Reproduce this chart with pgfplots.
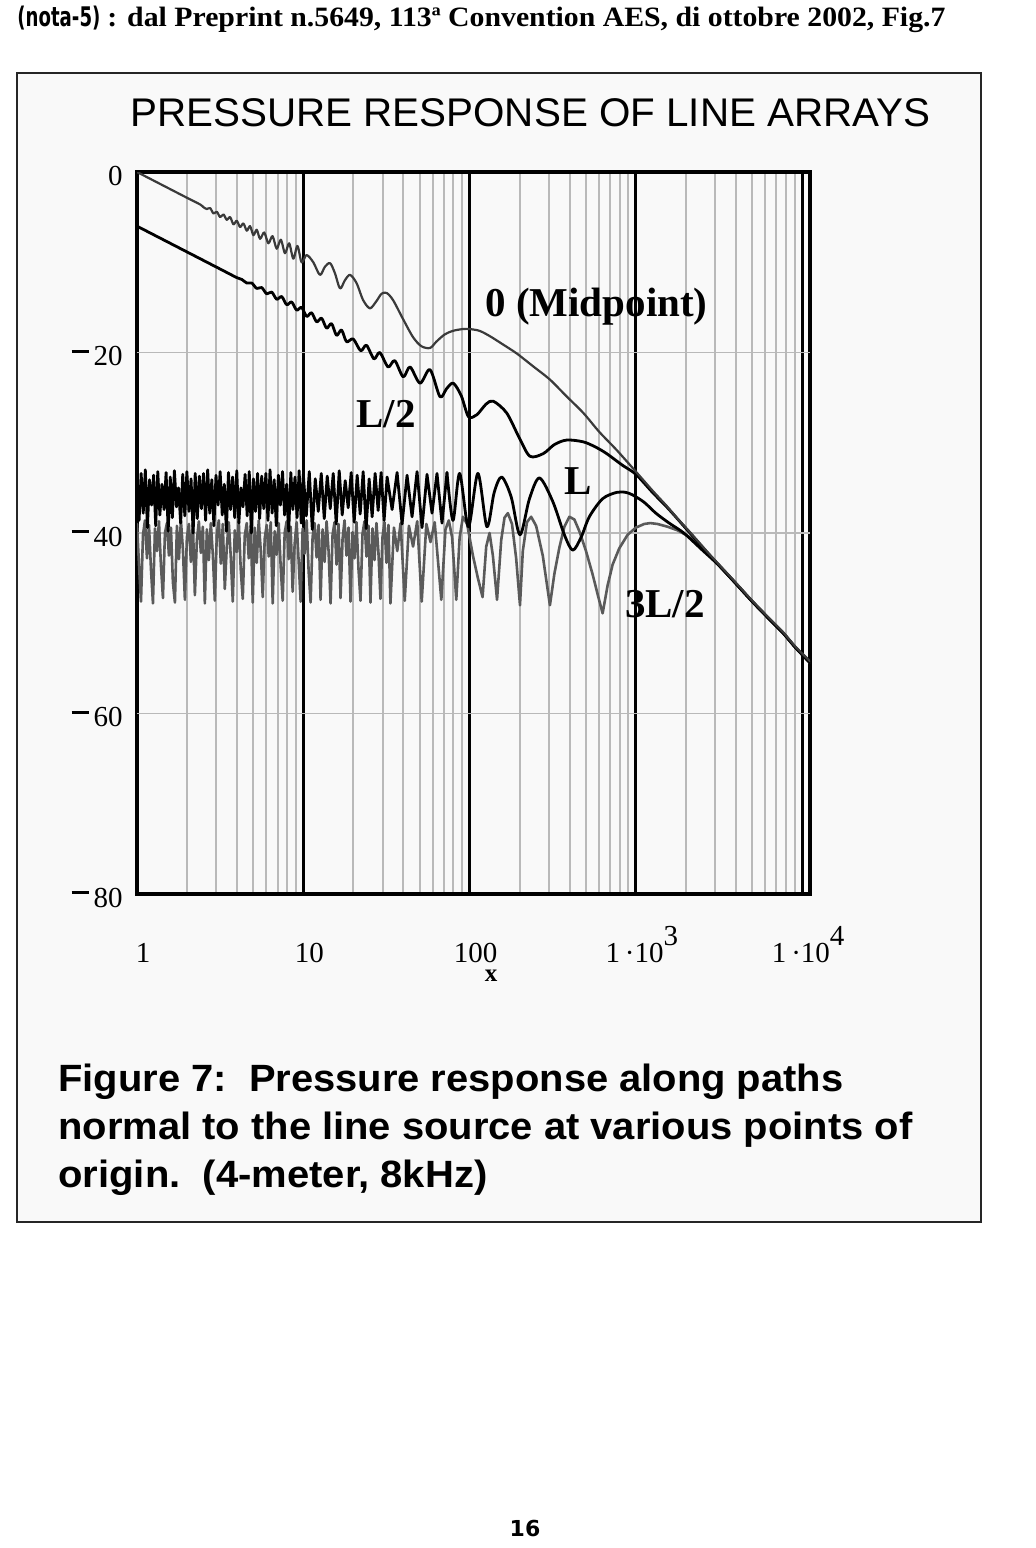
\documentclass[border=0pt]{standalone}
\usepackage{fontspec}
\setmainfont{Liberation Serif}
\setsansfont{Liberation Sans}
\newfontfamily\dejavu{DejaVu Sans}
\usepackage{graphicx}
\usepackage{pgfplots}
\pgfplotsset{compat=1.18}
\definecolor{boxfill}{RGB}{249,249,249}
\definecolor{midcurve}{RGB}{58,58,58}
\definecolor{farcurve}{RGB}{90,90,90}
\definecolor{minorgrid}{RGB}{185,185,185}
% raised Mathcad-style minus and power-of-ten labels
\newcommand\mns{\rule[0.44em]{0.59em}{0.1em}\hspace{0.17em}}
\newcommand\pw[1]{1\,·10\raisebox{0.58em}{#1}}

\begin{document}
\begin{tikzpicture}
\useasboundingbox (0,0) rectangle (518pt,-774pt);
\fill[white] (0,0) rectangle (518pt,-774pt);

% header line
\node[anchor=base west, inner sep=0pt] at (8.5pt,-13pt)
  {\resizebox{41.5pt}{\height}{\dejavu\bfseries\fontsize{13.5}{13.5}\selectfont (nota-5)}};
\node[anchor=base west, inner sep=0pt] at (53.5pt,-13pt)
  {\resizebox{419pt}{\height}{\bfseries\fontsize{14}{14}\selectfont : dal Preprint n.5649, 113ª Convention AES, di ottobre 2002, Fig.7}};

% figure frame
\draw[line width=1pt, draw=black!85, fill=boxfill] (8.5pt,-36.5pt) rectangle (490.5pt,-611pt);

% title
\node[anchor=base west, inner sep=0pt] at (65pt,-63.4pt)
  {\resizebox{400pt}{\height}{\sffamily\fontsize{20}{20}\selectfont PRESSURE RESPONSE OF LINE ARRAYS}};

\begin{axis}[
  at={(68.5pt,-447pt)}, anchor=south west,
  scale only axis,
  width=336.5pt, height=361pt,
  xmin=0, xmax=4.047,
  ymin=-80, ymax=0,
  axis line style={line width=1.75pt},
  xtick={0,1,2,3,4},
  xticklabels={1,10,100,\pw{3},\pw{4}},
  minor xtick={0.30103,0.47712,0.60206,0.69897,0.77815,0.84510,0.90309,0.95424,
               1.30103,1.47712,1.60206,1.69897,1.77815,1.84510,1.90309,1.95424,
               2.30103,2.47712,2.60206,2.69897,2.77815,2.84510,2.90309,2.95424,
               3.30103,3.47712,3.60206,3.69897,3.77815,3.84510,3.90309,3.95424},
  ytick={-80,-60,-40,-20,0},
  yticklabels={{\mns 80},{\mns 60},{\mns 40},{\mns 20},0},
  major tick length=0pt, minor tick length=0pt,
  xmajorgrids=true, xminorgrids=true,
  major grid style={black, line width=1.5pt},
  minor grid style={minorgrid, line width=1pt},
  extra y ticks={-60,-40,-20},
  extra y tick labels={},
  extra y tick style={grid=major, major grid style={minorgrid, line width=0.8pt}},
  xticklabel style={font=\fontsize{14.5}{14.5}\selectfont, anchor=base, inner sep=0pt, yshift=-34pt, xshift=3pt},
  yticklabel style={font=\fontsize{14.5}{14.5}\selectfont, anchor=east, inner sep=0pt, xshift=-7pt, yshift=-1.8pt},
  xlabel={x},
  xlabel style={at={(axis description cs:0.526,0)}, anchor=base, inner sep=0pt, yshift=-43.5pt,
                font=\bfseries\fontsize{12.5}{12.5}\selectfont},
  every axis plot/.append style={line join=round, line cap=round},
]

% 3L/2 (grey)
\addplot[farcurve, line width=1.3pt] coordinates {
(0.000,-39.0) (0.012,-43.5) (0.024,-47.6) (0.036,-40.2) (0.048,-38.6) (0.060,-42.8)
(0.072,-39.1) (0.084,-44.0) (0.096,-47.8) (0.108,-39.5) (0.120,-42.0) (0.132,-38.7)
(0.144,-43.6) (0.156,-47.2) (0.168,-40.0) (0.180,-38.9) (0.192,-42.5) (0.204,-39.4)
(0.216,-45.5) (0.228,-47.7) (0.240,-39.2) (0.252,-42.9) (0.264,-38.6) (0.276,-41.8)
(0.288,-47.4) (0.300,-40.5) (0.312,-39.0) (0.324,-43.2) (0.336,-38.8) (0.348,-46.9)
(0.360,-40.8) (0.372,-38.7) (0.384,-42.2) (0.396,-39.3) (0.408,-47.8) (0.420,-39.6)
(0.432,-43.0) (0.444,-38.9) (0.456,-42.4) (0.468,-47.5) (0.480,-40.1) (0.492,-38.6)
(0.504,-43.4) (0.516,-39.0) (0.528,-46.2) (0.540,-41.5) (0.552,-38.8) (0.564,-42.7)
(0.576,-47.6) (0.588,-39.7) (0.600,-42.1) (0.612,-38.7) (0.624,-44.1) (0.636,-47.3)
(0.648,-40.3) (0.660,-38.9) (0.672,-42.8) (0.684,-39.2) (0.696,-47.7) (0.708,-39.4)
(0.720,-43.3) (0.732,-38.6) (0.744,-41.9) (0.756,-47.1) (0.768,-40.6) (0.780,-39.1)
(0.792,-42.6) (0.804,-38.8) (0.816,-47.8) (0.828,-39.8) (0.840,-42.4) (0.852,-38.9)
(0.864,-43.7) (0.876,-47.5) (0.888,-40.0) (0.900,-38.7) (0.912,-42.9) (0.924,-39.3)
(0.936,-46.5) (0.948,-41.2) (0.960,-38.8) (0.972,-43.1) (0.984,-47.6) (0.996,-39.5)
(1.008,-42.3) (1.020,-38.6) (1.032,-44.2) (1.044,-47.7) (1.056,-40.4) (1.068,-38.9)
(1.080,-42.7) (1.092,-39.1) (1.104,-47.4) (1.116,-39.6) (1.128,-43.2) (1.140,-38.7)
(1.152,-42.0) (1.164,-47.8) (1.176,-40.2) (1.188,-38.8) (1.200,-43.5) (1.212,-39.0)
(1.224,-47.2) (1.236,-40.7) (1.248,-38.6) (1.260,-42.5) (1.272,-39.4) (1.284,-47.6)
(1.296,-39.9) (1.308,-42.8) (1.320,-38.8) (1.332,-44.0) (1.344,-47.5) (1.356,-40.1)
(1.368,-38.7) (1.380,-42.6) (1.392,-39.2) (1.404,-47.7) (1.416,-39.5) (1.428,-43.0)
(1.440,-38.9) (1.452,-42.2) (1.464,-47.3) (1.476,-40.5) (1.488,-38.8) (1.500,-43.3)
(1.512,-39.1) (1.524,-47.8) (1.545,-39.4) (1.565,-42.0) (1.585,-38.9) (1.610,-47.5)
(1.635,-39.2) (1.660,-41.5) (1.685,-38.7) (1.712,-47.6) (1.740,-39.0) (1.765,-41.0)
(1.790,-38.8) (1.830,-47.4) (1.855,-39.6) (1.875,-38.6) (1.895,-40.5) (1.920,-47.4)
(1.940,-40.5) (1.960,-38.2) (1.985,-39.0) (2.020,-42.5) (2.050,-45.0) (2.078,-47.1)
(2.100,-41.5) (2.120,-40.0) (2.140,-42.5) (2.165,-47.4) (2.190,-40.8) (2.210,-38.3)
(2.230,-37.8) (2.255,-39.0) (2.280,-42.8) (2.303,-48.0) (2.320,-42.0) (2.345,-38.8)
(2.370,-38.2) (2.400,-39.2) (2.440,-42.5) (2.483,-48.0) (2.510,-44.5) (2.540,-41.6)
(2.570,-39.3) (2.600,-38.2) (2.630,-38.5) (2.660,-39.8) (2.700,-42.0) (2.740,-44.6)
(2.770,-46.8) (2.800,-48.9) (2.830,-45.8) (2.860,-43.5) (2.900,-41.7) (2.950,-40.2)
(3.000,-39.4) (3.050,-39.0) (3.086,-38.9) (3.130,-39.0) (3.190,-39.3) (3.250,-39.7)
(3.310,-40.3) (3.370,-41.1) (3.450,-42.6) (3.586,-45.3) (3.700,-47.6) (3.800,-49.5)
(3.886,-51.1) (3.960,-52.7) (4.047,-54.4)
};

% L (black), dense near field
\addplot[black, line width=1.4pt] coordinates {
(0.0000,-34.5) (0.0125,-38.6) (0.0250,-33.4) (0.0375,-37.8) (0.0500,-33.0) (0.0625,-39.4)
(0.0750,-34.1) (0.0875,-36.9) (0.1000,-33.6) (0.1125,-39.2) (0.1250,-33.2) (0.1375,-38.0)
(0.1500,-34.6) (0.1625,-37.4) (0.1750,-33.3) (0.1875,-39.8) (0.2000,-33.8) (0.2125,-38.3)
(0.2250,-33.1) (0.2375,-37.1) (0.2500,-35.0) (0.2625,-38.9) (0.2750,-33.5) (0.2875,-38.1)
(0.3000,-33.2) (0.3125,-37.6) (0.3250,-34.0) (0.3375,-40.0) (0.3500,-33.4) (0.3625,-38.4)
(0.3750,-33.7) (0.3875,-37.3) (0.4000,-33.4) (0.4125,-38.6) (0.4250,-33.0) (0.4375,-37.8)
(0.4500,-34.1) (0.4625,-39.2) (0.4750,-33.6) (0.4875,-36.9) (0.5000,-33.2) (0.5125,-38.0)
(0.5250,-34.6) (0.5375,-39.8) (0.5500,-33.3) (0.5625,-37.4) (0.5750,-33.8) (0.5875,-38.3)
(0.6000,-33.1) (0.6125,-38.9) (0.6250,-35.0) (0.6375,-37.1) (0.6500,-33.5) (0.6625,-38.1)
(0.6750,-33.2) (0.6875,-40.0) (0.7000,-34.0) (0.7125,-37.6) (0.7250,-33.4) (0.7375,-38.4)
(0.7500,-33.7) (0.7625,-37.3) (0.7750,-33.4) (0.7875,-38.6) (0.8000,-33.0) (0.8125,-37.8)
(0.8250,-34.1) (0.8375,-39.2) (0.8500,-33.6) (0.8625,-36.9) (0.8750,-33.2) (0.8875,-38.0)
(0.9000,-34.6) (0.9125,-39.8) (0.9250,-33.3) (0.9375,-37.4) (0.9500,-33.8) (0.9625,-38.3)
(0.9750,-33.1) (0.9875,-38.9) (1.0000,-33.5) (1.018,-38.1) (1.036,-33.2) (1.054,-39.6)
(1.072,-34.0) (1.090,-37.6) (1.108,-33.4) (1.126,-38.4) (1.144,-33.7) (1.162,-37.3)
(1.180,-33.4) (1.198,-39.0) (1.216,-33.1) (1.234,-38.0) (1.252,-34.2) (1.270,-37.2)
(1.288,-33.3) (1.306,-38.8) (1.324,-33.6) (1.342,-37.9) (1.360,-33.2) (1.378,-39.5)
(1.396,-34.0) (1.414,-38.2) (1.432,-33.4) (1.450,-37.5) (1.468,-33.3) (1.486,-38.6)
(1.504,-33.8) (1.534,-37.4) (1.564,-33.3) (1.594,-39.0) (1.624,-33.6) (1.654,-38.2)
(1.684,-33.2) (1.714,-39.4) (1.744,-33.5) (1.774,-37.8) (1.804,-33.4) (1.834,-38.9)
(1.864,-33.3)
};
% L (black), far field
\addplot[black, line width=1.4pt, smooth] coordinates {
(1.864,-33.3) (1.900,-38.6) (1.940,-33.4) (1.993,-39.3) (2.050,-33.4) (2.104,-39.3)
(2.148,-35.5) (2.193,-33.8) (2.250,-36.0) (2.303,-40.2) (2.360,-36.2) (2.420,-33.9)
(2.500,-36.5) (2.570,-40.2) (2.620,-41.9) (2.670,-40.5) (2.720,-38.2) (2.800,-36.2)
(2.884,-35.5) (2.940,-35.5) (2.982,-35.8) (3.050,-36.6) (3.120,-37.8) (3.200,-38.9)
(3.288,-40.0) (3.400,-41.9) (3.500,-43.6) (3.586,-45.3) (3.700,-47.6) (3.800,-49.5)
(3.886,-51.1) (3.960,-52.7) (4.047,-54.4)
};

% L/2 (black)
\addplot[black, line width=1.4pt, smooth] coordinates {
(0.00,-6.0) (0.10,-6.95) (0.20,-7.9) (0.30,-8.85) (0.40,-9.8) (0.50,-10.75) (0.60,-11.7)
(0.63,-11.9) (0.66,-12.3) (0.69,-12.3) (0.72,-12.9) (0.75,-12.8) (0.78,-13.5) (0.81,-13.3)
(0.84,-14.1) (0.87,-13.8) (0.90,-14.7) (0.93,-14.4) (0.96,-15.3) (0.99,-15.0) (1.02,-16.0)
(1.05,-15.6) (1.08,-16.6) (1.11,-16.2) (1.14,-17.3) (1.17,-16.8) (1.20,-18.1) (1.23,-17.5)
(1.26,-18.8) (1.30,-18.5) (1.345,-19.8) (1.38,-19.2) (1.425,-20.7) (1.46,-20.0) (1.51,-21.6)
(1.55,-20.9) (1.601,-22.7) (1.642,-21.6) (1.702,-23.4) (1.762,-21.9) (1.822,-24.9)
(1.862,-24.0) (1.902,-23.4) (1.95,-24.8) (1.993,-27.1) (2.043,-26.9) (2.10,-25.7)
(2.143,-25.4) (2.223,-26.7) (2.30,-29.5) (2.363,-31.5) (2.443,-31.2) (2.51,-30.2)
(2.584,-29.7) (2.684,-29.9) (2.76,-30.5) (2.824,-31.2) (2.92,-32.5) (3.00,-33.5)
(3.10,-35.5) (3.20,-37.4) (3.325,-40.0) (3.45,-42.6) (3.586,-45.3) (3.70,-47.6)
(3.80,-49.5) (3.886,-51.1) (3.96,-52.7) (4.047,-54.3)
};

% 0 (midpoint), dark grey thin
\addplot[midcurve, line width=1.1pt, smooth] coordinates {
(0.00,0.0) (0.10,-0.95) (0.20,-1.9) (0.30,-2.85) (0.38,-3.6) (0.40,-3.9) (0.42,-4.1)
(0.44,-4.0) (0.46,-4.6) (0.48,-4.4) (0.50,-5.0) (0.52,-4.7) (0.54,-5.3) (0.56,-5.0)
(0.58,-5.8) (0.60,-5.4) (0.62,-6.1) (0.64,-5.7) (0.66,-6.5) (0.68,-6.0) (0.70,-7.0)
(0.72,-6.4) (0.74,-7.4) (0.765,-6.7) (0.79,-7.9) (0.815,-7.1) (0.84,-8.5) (0.865,-7.5)
(0.89,-9.0) (0.915,-7.9) (0.94,-9.6) (0.965,-8.2) (0.99,-10.0) (1.02,-9.2) (1.06,-10.0)
(1.10,-11.4) (1.13,-10.5) (1.161,-10.1) (1.19,-11.2) (1.221,-12.9) (1.25,-12.0)
(1.281,-11.4) (1.32,-12.3) (1.36,-14.2) (1.401,-15.1) (1.44,-14.3) (1.47,-13.5)
(1.501,-13.4) (1.54,-14.2) (1.60,-16.3) (1.66,-18.3) (1.71,-19.3) (1.762,-19.5)
(1.80,-18.8) (1.85,-18.0) (1.90,-17.6) (1.96,-17.4) (2.00,-17.4) (2.06,-17.6)
(2.123,-18.2) (2.20,-19.1) (2.283,-20.1) (2.38,-21.5) (2.483,-23.0) (2.58,-24.8)
(2.684,-26.7) (2.78,-28.8) (2.884,-30.8) (3.00,-33.2) (3.10,-35.3) (3.185,-37.0)
(3.25,-38.4) (3.325,-39.9) (3.45,-42.5) (3.586,-45.2) (3.70,-47.5) (3.80,-49.4)
(3.886,-51.0) (3.96,-52.6) (4.047,-54.2)
};
\end{axis}

% curve labels
\begin{scope}[every node/.style={anchor=base, inner sep=0pt, font=\bfseries\fontsize{20.5}{20.5}\selectfont}]
\node at (298.25pt,-158pt) {0 (Midpoint)};
\node at (193pt,-213.5pt) {L/2};
\node at (289.25pt,-247pt) {L};
\node at (332.5pt,-308.5pt) {3L/2};
\end{scope}

% caption
\begin{scope}[every node/.style={anchor=base west, inner sep=0pt}]
\node at (29pt,-545.5pt) {\resizebox{392.5pt}{\height}{\sffamily\bfseries\fontsize{19}{19}\selectfont Figure 7:\ \ Pressure response along paths}};
\node at (29pt,-569.5pt) {\resizebox{427pt}{\height}{\sffamily\bfseries\fontsize{19}{19}\selectfont normal to the line source at various points of}};
\node at (29pt,-593.5pt) {\resizebox{214.5pt}{\height}{\sffamily\bfseries\fontsize{19}{19}\selectfont origin.\ \ (4-meter, 8kHz)}};
\end{scope}

% page number
\node[anchor=base, inner sep=0pt] at (262.5pt,-768pt) {\dejavu\bfseries\fontsize{11}{11}\selectfont 16};
\end{tikzpicture}
\end{document}
